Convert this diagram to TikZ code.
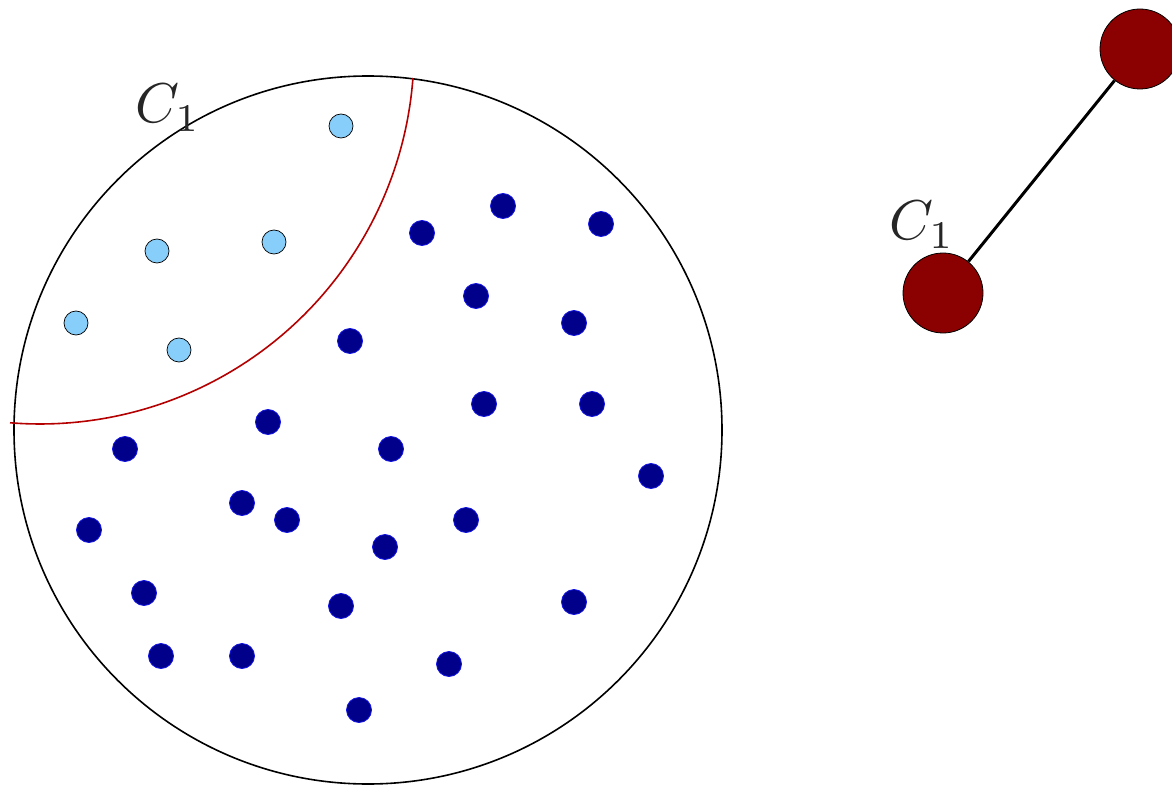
\documentclass[tikz,border=0pt]{standalone}
\usetikzlibrary{calc}
\definecolor{dotdark}{RGB}{0,0,139}
\definecolor{dotedge}{RGB}{20,20,230}
\definecolor{dotlight}{RGB}{135,206,250}
\definecolor{nodered}{RGB}{139,0,0}
\definecolor{arcred}{RGB}{180,0,0}
\begin{document}
\begin{tikzpicture}[x=1pt,y=-1pt,
  darkdot/.style={circle,fill=dotdark,draw=dotedge,line width=0.8pt,minimum size=25pt,inner sep=0pt},
  lightdot/.style={circle,fill=dotlight,draw=black,line width=0.7pt,minimum size=24pt,inner sep=0pt},
  bignode/.style={circle,fill=nodered,draw=black,line width=0.8pt,minimum size=80pt,inner sep=0pt},
  lbl/.style={scale=5.6,text=black!85,inner sep=0pt}]
\useasboundingbox (0,0) rectangle (1172,786);
\draw[line width=1.6pt] (368,430) circle[radius=354];
% red arc: circle centered (40,50), radius 374
\draw[arcred,line width=1.6pt] (40,50) ++(4.3:374) arc[start angle=4.3,end angle=94.6,radius=374];
\node[lbl] (l1) at (168,108) {$C_1$};
% light dots
\foreach \p [count=\i] in {(341,126),(157,251),(274,242),(76,323),(179,350)}
  \node[lightdot] (a\i) at \p {};
% dark dots
\foreach \p [count=\i] in {(422,233),(503,206),(601,224),(476,296),(574,323),(350,341),(484,404),(592,404),(268,422),(125,449),(391,449),(651,476),(242,503),(287,520),(466,520),(89,530),(385,547),(144,593),(341,606),(574,602),(161,656),(242,656),(449,664),(359,710)}
  \node[darkdot] (b\i) at \p {};
% right graph
\node[bignode] (r1) at (943,293) {};
\node[bignode] (r2) at (1140,49) {};
\draw[line width=3pt] (r1) -- (r2);
\node[lbl] (l2) at (922,225) {$C_1$};
\end{tikzpicture}
\end{document}
